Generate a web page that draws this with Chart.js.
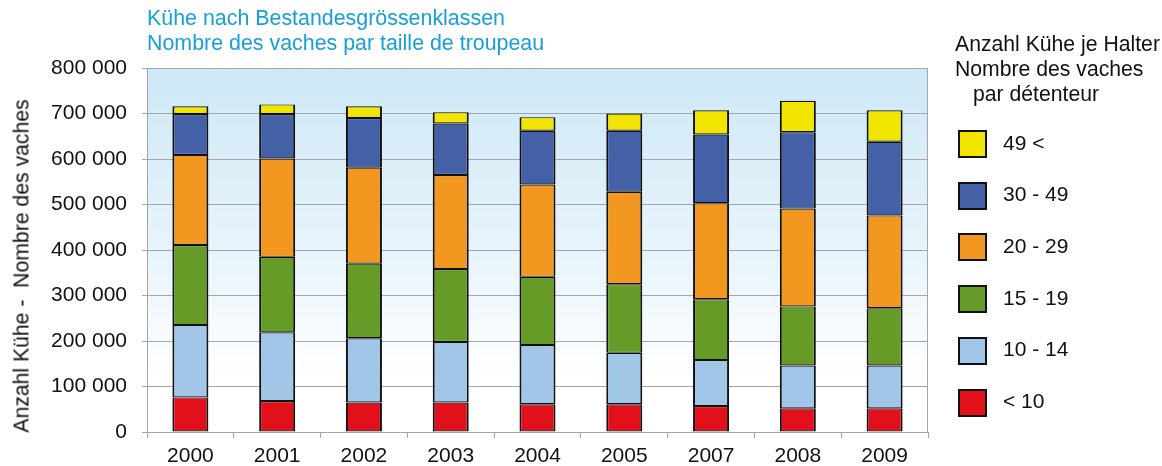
<!DOCTYPE html>
<html>
<head>
<meta charset="utf-8">
<script src="https://cdn.jsdelivr.net/npm/chart.js@4.4.1/dist/chart.umd.min.js"></script>
<style>
    body { margin: 0; background: #fff; }
    #wrap { position: relative; width: 1162px; height: 466px; font-family: "Liberation Sans", Arial, sans-serif; }
    #chart { position: absolute; left: 0; top: 0; }
    .title { position: absolute; left: 147px; color: #17a0d8; font-size: 21.4px; line-height: 25px; white-space: nowrap; }
    .ytitle { position: absolute; left: 21px; top: 266px; font-size: 21.2px; line-height: 25px; white-space: nowrap;
              transform: translate(-50%, -50%) rotate(-90deg); color: #111; }
    .legend-title { position: absolute; left: 955px; top: 31px; font-size: 21.2px; line-height: 25px; color: #111; white-space: nowrap; }
    .legend-item { position: absolute; left: 958px; height: 28px; }
    .legend-box { position: absolute; left: 0; top: 0; width: 29px; height: 28px; border: 2px solid #111; box-sizing: border-box; }
    .legend-label { position: absolute; left: 45px; top: -0.5px; font-size: 21px; line-height: 25px; color: #111; white-space: nowrap; }
</style>
</head>
<body>
<div id="wrap">
    <canvas id="chart" width="1162" height="466"></canvas>
    <div class="title" style="top:6px">Kühe nach Bestandesgrössenklassen</div>
    <div class="title" style="top:31px">Nombre des vaches par taille de troupeau</div>
    <div class="ytitle">Anzahl Kühe -&nbsp; Nombre des vaches</div>
    <div class="legend-title">Anzahl Kühe je Halter<br>Nombre des vaches<br><span style="padding-left:18px">par détenteur</span></div>
    <div id="legend"></div>
</div>
<script>
    // --- Data ---
    const years = ['2000', '2001', '2002', '2003', '2004', '2005', '2007', '2008', '2009'];
    const under10 = [76000, 68000, 65000, 65000, 61000, 61000, 57000, 52000, 52000];
    const from10to14 = [159000, 151000, 141000, 133000, 130000, 113000, 101000, 94000, 94000];
    const from15to19 = [176000, 166000, 164000, 160000, 150000, 151000, 134000, 130000, 126000];
    const from20to29 = [198000, 216000, 211000, 207000, 203000, 203000, 211000, 215000, 204000];
    const from30to49 = [90000, 98000, 109000, 113000, 118000, 134000, 151000, 168000, 162000];
    const over49 = [17000, 21000, 26000, 25000, 30000, 38000, 53000, 69000, 69000];
    const classLabels = ['< 10', '10 - 14', '15 - 19', '20 - 29', '30 - 49', '49 <'];
    const yTicks = [0, 100000, 200000, 300000, 400000, 500000, 600000, 700000, 800000];

    const colors = ['#e2101b', '#a1c6e7', '#679b27', '#f2971f', '#4461a8', '#f2e500'];
    const series = [under10, from10to14, from15to19, from20to29, from30to49, over49];

    function fmt(v) {
        return String(v).replace(/\B(?=(\d{3})+(?!\d))/g, ' ');
    }

    // background gradient + frame of the plot area
    const plotBackground = {
        id: 'plotBackground',
        beforeDraw(chart) {
            const {ctx, chartArea: a} = chart;
            const g = ctx.createLinearGradient(0, a.top, 0, a.bottom);
            g.addColorStop(0, '#cde8f6');
            g.addColorStop(0.55, '#eaf5fc');
            g.addColorStop(0.85, '#ffffff');
            g.addColorStop(1, '#ffffff');
            ctx.save();
            ctx.fillStyle = g;
            ctx.fillRect(a.left, a.top, a.right - a.left, a.bottom - a.top);
            ctx.strokeStyle = '#a6a6a6';
            ctx.lineWidth = 1;
            ctx.strokeRect(Math.round(a.left) + 0.5, Math.round(a.top) + 0.5,
                Math.round(a.right - a.left) - 1, Math.round(a.bottom - a.top));
            ctx.restore();
        }
    };

    const datasets = series.map((data, i) => ({
        label: classLabels[i],
        data: data,
        backgroundColor: colors[i],
        borderColor: '#111',
        borderWidth: { left: 2, right: 2, top: 1.2, bottom: 1.2 },
        borderSkipped: false,
        inflateAmount: 0,
        barPercentage: 0.415,
        categoryPercentage: 1
    }));

    const chart = new Chart(document.getElementById('chart'), {
        type: 'bar',
        data: { labels: years, datasets: datasets },
        plugins: [plotBackground],
        options: {
            responsive: false,
            animation: false,
            layout: { padding: { top: 68, right: 234, bottom: 0, left: 0 } },
            plugins: { legend: { display: false }, tooltip: { enabled: false } },
            scales: {
                x: {
                    stacked: true,
                    offset: true,
                    grid: { offset: true, drawOnChartArea: false, drawTicks: true, tickLength: 6, color: '#a6a6a6' },
                    border: { color: '#a6a6a6' },
                    ticks: { color: '#111', font: { family: 'Liberation Sans', size: 21 }, padding: 6, maxRotation: 0 },
                    afterFit(scale) { scale.height = 34; }
                },
                y: {
                    stacked: true,
                    min: 0,
                    max: 800000,
                    afterBuildTicks(scale) { scale.ticks = yTicks.map(v => ({ value: v })); },
                    grid: { color: '#a6a6a6', tickLength: 5 },
                    border: { color: '#a6a6a6' },
                    ticks: {
                        color: '#111',
                        font: { family: 'Liberation Sans', size: 21 },
                        padding: 15,
                        callback: v => fmt(v)
                    },
                    afterFit(scale) { scale.width = 147; }
                }
            }
        }
    });

    // legend built from the chart's datasets, top item = last dataset
    const legend = document.getElementById('legend');
    chart.data.datasets.slice().reverse().forEach((ds, i) => {
        const item = document.createElement('div');
        item.className = 'legend-item';
        item.style.top = (130 + i * 51.7) + 'px';
        item.innerHTML = '<div class="legend-box" style="background:' + ds.backgroundColor + '"></div>' +
            '<div class="legend-label">' + ds.label + '</div>';
        legend.appendChild(item);
    });
</script>
</body>
</html>
